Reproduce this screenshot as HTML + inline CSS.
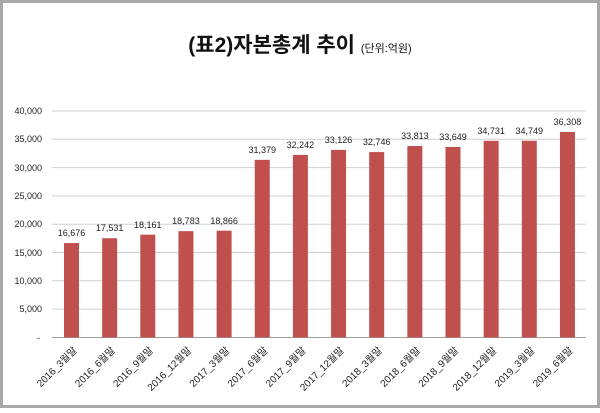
<!DOCTYPE html>
<html><head><meta charset="utf-8"><style>
body{margin:0;background:#fff;}
</style></head><body>
<svg width="600" height="408" xmlns="http://www.w3.org/2000/svg" font-family="'Liberation Sans','Noto Sans CJK KR',sans-serif">
<rect x="1.5" y="1.5" width="597" height="405" fill="#fff" stroke="#a8a8a8" stroke-width="3"/>
<text x="300" y="52" text-anchor="middle" font-size="21" font-weight="bold" fill="#111">(표2)자본총계 추이 <tspan font-size="11" font-weight="normal">(단위:억원)</tspan></text>
<g stroke="#d0d0d0" stroke-width="1">
<line x1="52" x2="586" y1="111" y2="111"/><line x1="52" x2="586" y1="139.3" y2="139.3"/>
<line x1="52" x2="586" y1="167.6" y2="167.6"/><line x1="52" x2="586" y1="195.9" y2="195.9"/>
<line x1="52" x2="586" y1="224.2" y2="224.2"/><line x1="52" x2="586" y1="252.5" y2="252.5"/>
<line x1="52" x2="586" y1="280.8" y2="280.8"/><line x1="52" x2="586" y1="309.1" y2="309.1"/>
<line x1="52" x2="586" y1="337.5" y2="337.5" stroke="#a0a0a0"/>
</g>
<g font-size="9" fill="#222" text-anchor="end">
<text x="42" y="114">40,000</text><text x="42" y="142">35,000</text><text x="42" y="171">30,000</text>
<text x="42" y="199">25,000</text><text x="42" y="227">20,000</text><text x="42" y="256">15,000</text>
<text x="42" y="284">10,000</text><text x="42" y="312">5,000</text><text x="40" y="341">-</text>
</g>
<g fill="#c0504d">
<rect x="64" y="243.07" width="15" height="94.43"/>
<rect x="102.15" y="238.23" width="15" height="99.27"/>
<rect x="140.3" y="234.66" width="15" height="102.84"/>
<rect x="178.45" y="231.14" width="15" height="106.36"/>
<rect x="216.6" y="230.67" width="15" height="106.83"/>
<rect x="254.75" y="159.82" width="15" height="177.68"/>
<rect x="292.9" y="154.93" width="15" height="182.57"/>
<rect x="331.05" y="149.92" width="15" height="187.58"/>
<rect x="369.2" y="152.08" width="15" height="185.42"/>
<rect x="407.35" y="146.03" width="15" height="191.47"/>
<rect x="445.5" y="146.96" width="15" height="190.54"/>
<rect x="483.65" y="140.84" width="15" height="196.66"/>
<rect x="521.8" y="140.73" width="15" height="196.77"/>
<rect x="559.95" y="131.91" width="15" height="205.59"/>
</g>
<g font-size="9" fill="#222" text-anchor="middle">
<text x="71.5" y="236">16,676</text>
<text x="109.65" y="231">17,531</text>
<text x="147.8" y="228">18,161</text>
<text x="185.95" y="224">18,783</text>
<text x="224.1" y="224">18,866</text>
<text x="262.25" y="153">31,379</text>
<text x="300.4" y="148">32,242</text>
<text x="338.55" y="143">33,126</text>
<text x="376.7" y="145">32,746</text>
<text x="414.85" y="139">33,813</text>
<text x="453" y="140">33,649</text>
<text x="491.15" y="134">34,731</text>
<text x="529.3" y="134">34,749</text>
<text x="567.45" y="125">36,308</text>
</g>
<g font-size="10" fill="#222" text-anchor="end">
<text transform="translate(77.5,351) rotate(-45)">2016_3월말</text>
<text transform="translate(115.65,351) rotate(-45)">2016_6월말</text>
<text transform="translate(153.8,351) rotate(-45)">2016_9월말</text>
<text transform="translate(191.95,351) rotate(-45)">2016_12월말</text>
<text transform="translate(230.1,351) rotate(-45)">2017_3월말</text>
<text transform="translate(268.25,351) rotate(-45)">2017_6월말</text>
<text transform="translate(306.4,351) rotate(-45)">2017_9월말</text>
<text transform="translate(344.55,351) rotate(-45)">2017_12월말</text>
<text transform="translate(382.7,351) rotate(-45)">2018_3월말</text>
<text transform="translate(420.85,351) rotate(-45)">2018_6월말</text>
<text transform="translate(459,351) rotate(-45)">2018_9월말</text>
<text transform="translate(497.15,351) rotate(-45)">2018_12월말</text>
<text transform="translate(535.3,351) rotate(-45)">2019_3월말</text>
<text transform="translate(573.45,351) rotate(-45)">2019_6월말</text>
</g>
</svg>
</body></html>
